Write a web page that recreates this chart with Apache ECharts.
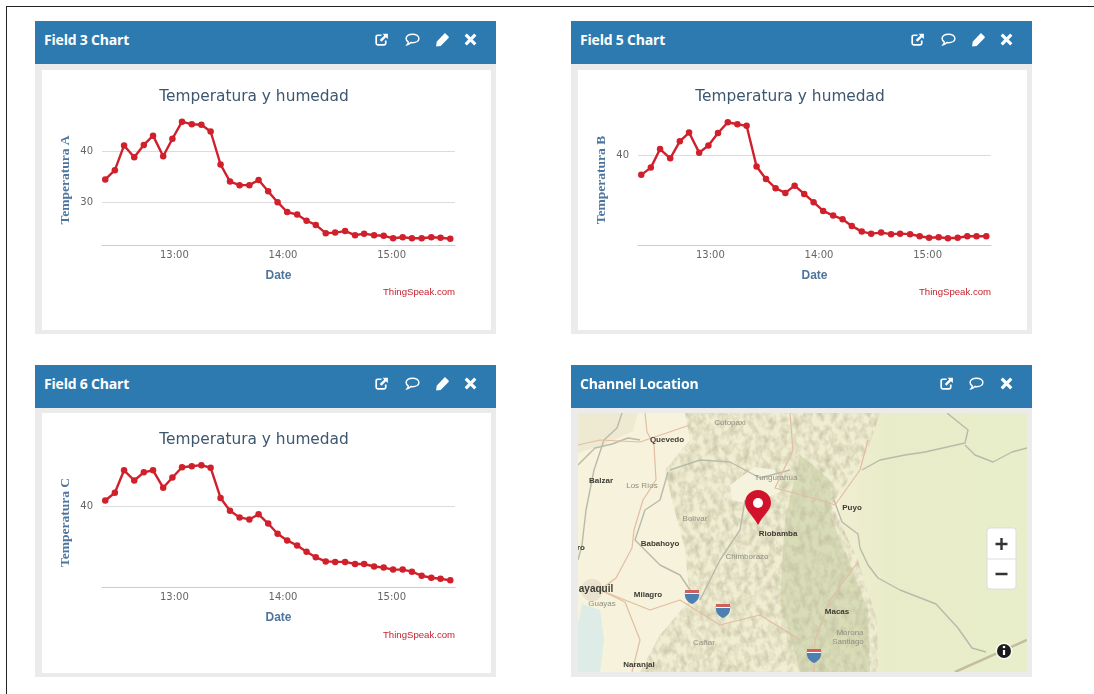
<!DOCTYPE html>
<html>
<head>
<meta charset="utf-8">
<title>Channel charts</title>
<script src="https://cdn.jsdelivr.net/npm/echarts@6/dist/echarts.min.js"></script>
<style>
  html, body { margin: 0; padding: 0; background: #fff; }
  body { position: relative; width: 1094px; height: 694px; overflow: hidden; font-family: "Open Sans", sans-serif; }
  .edge-top { position: absolute; left: 6px; right: 0; top: 6px; height: 1px; background: #222; }
  .edge-left { position: absolute; left: 6px; top: 6px; bottom: 0; width: 1px; background: #222; }
  .panel { position: absolute; width: 461px; height: 313px; background: #ebebeb; filter: blur(0.35px); }
  .panel.low { height: 312px; }
  .panel .head { height: 43px; background: #2d7ab1; color: #fff; font-weight: 700; font-size: 14px; line-height: 38px; padding-left: 9px; letter-spacing: -0.2px; }
  .panel .chart, .panel .map { position: absolute; left: 7px; top: 49px; width: 449px; height: 260px; background: #fff; }
  .panel.low .chart, .panel.low .map { top: 48px; }
  .panel .map { height: 259px; overflow: hidden; }
  .ico { position: absolute; top: 10px; width: 17px; height: 17px; }
</style>
</head>
<body>
<div class="edge-top"></div>
<div class="edge-left"></div>

<svg width="0" height="0" style="position:absolute">
  <symbol id="i-link" viewBox="0 0 16 16">
    <path d="M8 4H4.5A1.5 1.5 0 0 0 3 5.5v6A1.5 1.5 0 0 0 4.5 13h6a1.5 1.5 0 0 0 1.5-1.5V9" fill="none" stroke="#fff" stroke-width="1.6"/>
    <path d="M9 2.5h5v5l-1.8-1.6L8 10 6.4 8.4l4.2-4.2z" fill="#fff"/>
  </symbol>
  <symbol id="i-comment" viewBox="0 0 16 16">
    <path d="M8 3c3.4 0 6 1.700 6 4s-2.600 4-6 4c-.5 0-1 0-1.500-.1C5.600 11.800 4.500 12.600 3 13c.6-.8 1-1.700 1-2.800C2.800 9.500 2 8.300 2 7c0-2.300 2.600-4 6-4z" fill="none" stroke="#fff" stroke-width="1.400"/>
  </symbol>
  <symbol id="i-pencil" viewBox="0 0 16 16">
    <path d="M11 2.500l2.700 2.700c.4.400.4 1 0 1.400L6.300 14 2 14.500 2.500 10.200 9.600 2.500c.4-.4 1-.4 1.400 0z" fill="#fff"/>
  </symbol>
  <symbol id="i-close" viewBox="0 0 16 16">
    <path d="M3.500 3.500l9 9M12.500 3.500l-9 9" fill="none" stroke="#fff" stroke-width="3"/>
  </symbol>
</svg>

<div class="panel" style="left:35px;top:21px">
  <div class="head">Field 3 Chart</div>
  <svg class="ico" style="left:338px"><use href="#i-link"/></svg>
  <svg class="ico" style="left:369px"><use href="#i-comment"/></svg>
  <svg class="ico" style="left:399px"><use href="#i-pencil"/></svg>
  <svg class="ico" style="left:427px"><use href="#i-close"/></svg>
  <div class="chart" id="chartA"></div>
</div>

<div class="panel" style="left:571px;top:21px">
  <div class="head">Field 5 Chart</div>
  <svg class="ico" style="left:338px"><use href="#i-link"/></svg>
  <svg class="ico" style="left:369px"><use href="#i-comment"/></svg>
  <svg class="ico" style="left:399px"><use href="#i-pencil"/></svg>
  <svg class="ico" style="left:427px"><use href="#i-close"/></svg>
  <div class="chart" id="chartB"></div>
</div>

<div class="panel low" style="left:35px;top:365px">
  <div class="head">Field 6 Chart</div>
  <svg class="ico" style="left:338px"><use href="#i-link"/></svg>
  <svg class="ico" style="left:369px"><use href="#i-comment"/></svg>
  <svg class="ico" style="left:399px"><use href="#i-pencil"/></svg>
  <svg class="ico" style="left:427px"><use href="#i-close"/></svg>
  <div class="chart" id="chartC"></div>
</div>

<div class="panel low" style="left:571px;top:365px">
  <div class="head">Channel Location</div>
  <svg class="ico" style="left:367px"><use href="#i-link"/></svg>
  <svg class="ico" style="left:397px"><use href="#i-comment"/></svg>
  <svg class="ico" style="left:427px"><use href="#i-close"/></svg>
  <div class="map">
    <svg width="449" height="259" viewBox="578 413 449 259" style="filter:blur(0.4px)">
      <defs>
        <filter id="relief" x="0" y="0" width="100%" height="100%">
          <feTurbulence type="fractalNoise" baseFrequency="0.16 0.11" numOctaves="3" seed="7"/>
          <feColorMatrix values="0 0 0 0 0.55  0 0 0 0 0.52  0 0 0 0 0.36  1.7 0 0 0 -0.62"/>
        </filter>
        <clipPath id="mountains">
          <path d="M685 413L880 413L868 450L832 505L858 560L877 620L878 672L640 672L660 635L690 600L685 550L672 500L665 470L690 440Z"/>
        </clipPath>
        <linearGradient id="east" x1="0" x2="1" y1="0" y2="0">
          <stop offset="0" stop-color="#f0eed2"/>
          <stop offset="0.25" stop-color="#e9ecc9"/>
          <stop offset="1" stop-color="#e8edca"/>
        </linearGradient>
      </defs>
      <rect x="578" y="413" width="449" height="259" fill="#f6f2dc"/>
      <rect x="840" y="413" width="187" height="259" fill="url(#east)"/>
      <path d="M685 413L880 413L868 450L832 505L858 560L877 620L878 672L640 672L660 635L690 600L685 550L672 500L665 470L690 440Z" fill="#efedd2"/>
      <path d="M800 455L830 480L832 520L852 570L868 610L870 672L800 672L780 600L785 520Z" fill="#cfd6ab" opacity="0.7"/>
      <rect x="578" y="413" width="449" height="259" filter="url(#relief)" clip-path="url(#mountains)"/>
      <path d="M578 413h60l-5 18-30 14-25 8z" fill="#eeead2"/>
      <path d="M730 485l25-18 20 3 5 22-30 12-18-4z" fill="#f5f2dd"/>
      <path d="M582 604L600 610L604 640L600 672L578 672L578 625Z" fill="#d8ebe8" opacity="0.85"/>
      <circle cx="592" cy="590" r="11" fill="#e8e2cf"/>
      <g fill="none" stroke="#b8baaa" stroke-width="1.400" stroke-linejoin="round">
        <path d="M622 413L617 428L604 440L594 470L586 510L582 545L578 560"/>
        <path d="M578 465L595 448L612 444L628 438L640 440"/>
        <path d="M668 472L660 500L645 510L635 540L660 565L680 575L690 590"/>
        <path d="M670 470L700 460L730 462L760 478L790 470"/>
        <path d="M834 500L842 522L858 534L860 548L868 565L878 578L900 590L936 604L958 628L972 648L986 652"/>
        <path d="M862 470L880 460L905 455L925 452L965 443L968 430L947 413"/>
        <path d="M965 445L975 455L993 462L1012 452L1027 448"/>
        <path d="M700 600L720 560L740 530L745 500"/>
      </g>
      <g fill="none" stroke="#e3bda2" stroke-width="1.200" stroke-linejoin="round">
        <path d="M645 413L647 432L654 445L656 480L643 500L634 530L632 548L616 578L600 590L625 602L640 640L632 672"/>
        <path d="M790 413L793 450L775 488L820 500L835 505L860 470L868 440"/>
        <path d="M600 590L650 610L680 600L720 625L760 615L800 640"/>
        <path d="M578 445L600 440L640 442L690 425"/>
        <path d="M858 562L830 600L815 640L814 672"/>
      </g>
      <path d="M955 672L1027 640" stroke="#c4be9b" stroke-width="2.500" fill="none"/>
      <g font-family="'Liberation Sans', sans-serif" font-size="8" font-weight="700" fill="#3c3c34" text-anchor="middle">
        <text x="667" y="442">Quevedo</text>
        <text x="601" y="483">Balzar</text>
        <text x="660" y="546">Babahoyo</text>
        <text x="852" y="510">Puyo</text>
        <text x="778" y="536">Riobamba</text>
        <text x="648" y="597">Milagro</text>
        <text x="837" y="614">Macas</text>
        <text x="639" y="667">Naranjal</text>
        <text x="581" y="550">ro</text>
        <text x="596" y="592" font-size="10">ayaquil</text>
      </g>
      <g font-family="'Liberation Sans', sans-serif" font-size="8" fill="#8f8f80" text-anchor="middle">
        <text x="730" y="425">Cotopaxi</text>
        <text x="642" y="488">Los Ríos</text>
        <text x="695" y="521">Bolívar</text>
        <text x="776" y="480">Tungurahua</text>
        <text x="747" y="559">Chimborazo</text>
        <text x="602" y="606">Guayas</text>
        <text x="704" y="645">Cañar</text>
        <text x="850" y="635">Morona</text>
        <text x="848" y="644">Santiago</text>
      </g>
      <g id="shields">
        <g transform="translate(692 597)"><path d="M-7 -6h14c1 7-2 11-7 13-5-2-8-6-7-13z" fill="#4d7fb0"/><path d="M-7 -7h14v3h-14z" fill="#d0605a"/><path d="M-7 -4h14v1h-14z" fill="#fff"/></g>
        <g transform="translate(723 611)"><path d="M-7 -6h14c1 7-2 11-7 13-5-2-8-6-7-13z" fill="#4d7fb0"/><path d="M-7 -7h14v3h-14z" fill="#d0605a"/><path d="M-7 -4h14v1h-14z" fill="#fff"/></g>
        <g transform="translate(814 656)"><path d="M-7 -6h14c1 7-2 11-7 13-5-2-8-6-7-13z" fill="#4d7fb0"/><path d="M-7 -7h14v3h-14z" fill="#d0605a"/><path d="M-7 -4h14v1h-14z" fill="#fff"/></g>
      </g>
      <path d="M758 525C752 514 745 510 745 503A13 13 0 0 1 771 503C771 510 764 514 758 525Z" fill="#d2122a"/>
      <circle cx="758" cy="503" r="5" fill="#fff"/>
      <rect x="987" y="528" width="29" height="61" rx="3" fill="#fff" stroke="#ddd" stroke-width="1"/>
      <path d="M987 559h29" stroke="#ddd"/>
      <path d="M1001.500 538v12M995.500 544h12M995.500 574h12" stroke="#333" stroke-width="2.400"/>
      <circle cx="1004" cy="651" r="8.500" fill="#fff" opacity="0.8"/>
      <circle cx="1004" cy="651" r="7" fill="#1c1c1c"/>
      <path d="M1004 650v5" stroke="#fff" stroke-width="2.200"/>
      <circle cx="1004" cy="647" r="1.300" fill="#fff"/>
    </svg>
  </div>
</div>

<script>
// sample times
var times = ["12:21:48","12:27:06","12:32:12","12:37:48","12:43:06","12:48:12","12:53:48","12:58:54",
  "13:04:12","13:09:36","13:14:54","13:20:00","13:25:30","13:30:42","13:36:00","13:41:24",
  "13:46:30","13:51:48","13:57:00","14:02:18","14:07:48","14:13:00","14:18:06","14:23:36",
  "14:28:48","14:34:18","14:39:48","14:44:48","14:50:18","14:55:36","15:00:48","15:06:06",
  "15:11:12","15:16:36","15:21:54","15:27:00","15:32:24"];

var tempA = [34.5,36.3,41.1,38.8,41.2,43.0,39.0,42.4,45.7,45.2,45.1,43.8,37.4,34.1,33.4,33.4,34.4,32.2,30.1,28.2,
  27.7,26.5,25.7,24.1,24.2,24.5,23.7,24.0,23.7,23.6,23.1,23.3,23.1,23.1,23.3,23.2,23.0];
var tempB = [36.2,37.6,41.2,39.4,42.7,44.4,40.5,41.9,44.3,46.4,46.0,45.7,37.8,35.4,33.6,32.7,34.1,32.5,30.9,29.2,
  28.3,27.6,26.3,25.2,24.8,25.0,24.7,24.8,24.7,24.3,24.0,24.1,23.9,24.0,24.3,24.3,24.3];
var tempC = [41.2,42.7,47.1,45.1,46.7,47.1,43.7,45.7,47.7,47.9,48.1,47.6,41.7,39.2,37.9,37.5,38.5,36.7,34.7,33.4,
  32.4,31.2,30.1,29.3,29.2,29.2,28.8,28.8,28.3,28.1,27.7,27.7,27.3,26.5,26.1,25.9,25.6];

var hourTicks = ["13:00", "14:00", "15:00"];
var ticksA = [30, 40];
var ticksB = [40];
var ticksC = [40];

function toMinutes(t) {
  var p = t.split(":");
  return +p[0] * 60 + +p[1] + (p[2] ? +p[2] / 60 : 0);
}

function pad(n) {
  return (n < 10 ? "0" : "") + n;
}

function drawField(id, yName, values, yTicks, yMin, yMax, bottom) {
  var chart = echarts.init(document.getElementById(id));
  var hourValues = hourTicks.map(toMinutes);
  chart.setOption({
    animation: false,
    title: [
      {
        text: "Temperatura y humedad",
        left: 207,
        top: 14,
        textAlign: "center",
        textStyle: { fontFamily: "DejaVu Sans", fontSize: 15.4, fontWeight: "normal", color: "#3e576f" }
      },
      {
        text: "ThingSpeak.com",
        right: 31,
        top: 212,
        textStyle: { fontFamily: "Liberation Sans", fontSize: 9.6, fontWeight: "normal", color: "#c8202c" }
      }
    ],
    grid: { left: 60, right: 36, top: 45, bottom: bottom },
    xAxis: {
      type: "value",
      min: 740,
      max: 935,
      name: "Date",
      nameLocation: "middle",
      nameGap: 25,
      nameTextStyle: { fontFamily: "Liberation Sans", fontWeight: "bold", fontSize: 12, color: "#4d759e" },
      axisLine: { onZero: false, lineStyle: { color: "#c0d0e0", width: 1 } },
      axisTick: { show: false, customValues: hourValues },
      splitLine: { show: false },
      axisLabel: {
        customValues: hourValues,
        margin: 5,
        fontFamily: "DejaVu Sans",
        fontSize: 10,
        color: "#666",
        formatter: function (v) {
          return pad(Math.floor(v / 60)) + ":" + pad(v % 60);
        }
      }
    },
    yAxis: {
      type: "value",
      min: yMin,
      max: yMax,
      name: yName,
      nameLocation: "middle",
      nameRotate: 90,
      nameGap: 29,
      nameMoveOverlap: false,
      nameTextStyle: { fontFamily: "Liberation Serif", fontWeight: "bold", fontSize: 13.5, color: "#4d759e" },
      axisLine: { show: false },
      axisTick: { show: false, customValues: yTicks },
      splitLine: { show: true, lineStyle: { color: "#dcdcdc", width: 1 } },
      axisLabel: {
        customValues: yTicks,
        margin: 9,
        fontFamily: "DejaVu Sans",
        fontSize: 10,
        color: "#666"
      }
    },
    series: [
      {
        type: "line",
        data: times.map(function (t, i) {
          return [toMinutes(t), values[i]];
        }),
        symbol: "circle",
        symbolSize: 6.5,
        showSymbol: true,
        lineStyle: { color: "#d0202c", width: 2.4 },
        itemStyle: { color: "#d0202c" }
      }
    ]
  });
}

drawField("chartA", "Temperatura A", tempA, ticksA, 21.8, 47, 85);
drawField("chartB", "Temperatura B", tempB, ticksB, 22.6, 47.8, 85);
drawField("chartC", "Temperatura C", tempC, ticksC, 24.3, 49.5, 86);
</script>
</body>
</html>
